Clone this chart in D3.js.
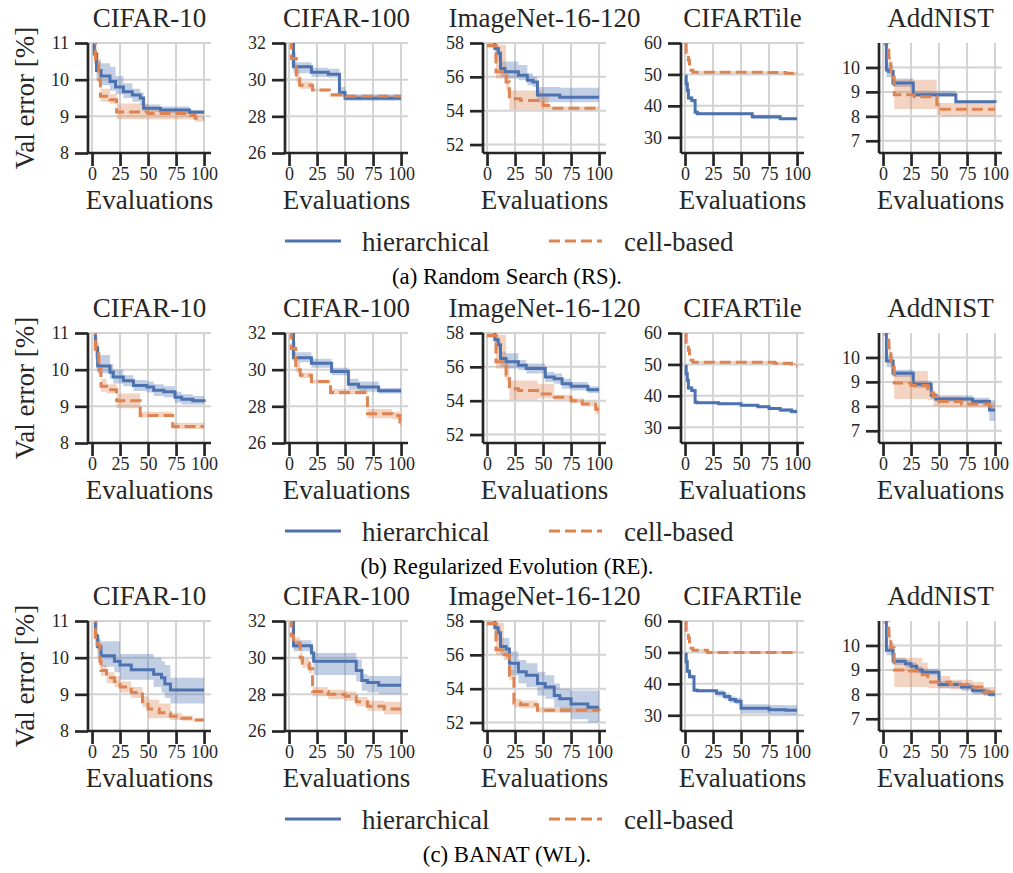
<!DOCTYPE html>
<html>
<head>
<meta charset="utf-8">
<script src="https://cdn.jsdelivr.net/npm/d3@7"></script>
<style>
  body { margin: 0; background: #fff; }
  text { font-family: "Liberation Serif", "Times New Roman", serif; }
</style>
</head>
<body>
<script>
// ---- data ----
const datasets = ["CIFAR-10", "CIFAR-100", "ImageNet-16-120", "CIFARTile", "AddNIST"];
const xTicks = [0, 25, 50, 75, 100];
const yTicks = [[8, 9, 10, 11], [26, 28, 30, 32], [52, 54, 56, 58], [30, 40, 50, 60], [7, 8, 9, 10]];
const yLimits = [[8, 11], [26, 32], [51.5, 58], [25, 60], [6.5, 11]];
const seriesNames = ["hierarchical", "cell-based"];
const captions = ["(a) Random Search (RS).", "(b) Regularized Evolution (RE).", "(c) BANAT (WL)."];

// each point: [evaluation, mean, lower, upper] (step after)
// (a) Random Search
const rsCifar10Hier = [[0,11.6,11.2,12],[2,10.7,10.4,11],[4,10.25,10,10.55],[8,10.1,9.85,10.45],[16,9.95,9.7,10.35],[21,9.8,9.6,10.1],[28,9.67,9.5,9.9],[36,9.58,9.4,9.75],[43,9.5,9.3,9.65],[46,9.22,9.12,9.32],[61,9.17,9.08,9.27],[87,9.11,9.07,9.17],[100,9.11,9.07,9.17]];
const rsCifar10Cell = [[0,11.6,11.2,12],[3,10.5,10.3,10.75],[6,10,9.85,10.3],[7.5,9.55,9.4,9.75],[16,9.45,9.35,9.6],[22,9.12,8.92,9.35],[50,9.08,8.92,9.2],[88,9.02,8.92,9.1],[92,8.95,8.85,9.05],[100,8.95,8.85,9.05]];
const rsCifar100Hier = [[0,33,32.5,33.5],[4,30.7,30.35,30.95],[20,30.4,30.15,30.65],[35,30.3,30.1,30.6],[45,29.3,29.1,29.6],[50,28.98,28.85,29.2],[100,28.98,28.85,29.15]];
const rsCifar100Cell = [[0,33,32.5,33.5],[2,31.15,30.8,31.5],[6.5,30.05,29.85,30.6],[9.5,29.7,29.5,29.9],[21,29.43,29.35,29.5],[36,29.18,29.05,29.25],[51,29.1,29,29.15],[100,29.1,29,29.15]];
const rsImagenetHier = [[0,58.3,58,58.6],[7,57.67,57.3,57.9],[10,57.4,57,57.7],[12,56.5,56,56.9],[16,56.3,55.9,56.9],[28,56.1,55.8,56.7],[36,55.8,55.5,56.2],[41,55.7,55.4,56],[45,54.93,54.5,55.4],[65,54.8,54.5,55.35],[100,54.8,54.5,55.35]];
const rsImagenetCell = [[0,57.85,57.7,58],[8,56.3,55.9,57.9],[17,55.7,55.2,56.4],[20,54.7,54.05,55.2],[30,54.6,54.05,55.2],[50,54.3,54.05,55],[55,54.15,54.05,54.25],[100,54.15,54.05,54.25]];
const rsTileHier = [[0,49.4,48.8,50],[1,47,46.3,47.8],[2,45,44.3,45.7],[3,42.5,41.9,43.2],[6,41.7,41.1,42.3],[9,38,37.4,38.6],[11,37.5,37.1,37.9],[60,36.5,35.8,37.2],[85,35.9,35.5,36.3],[100,35.9,35.5,36.3]];
const rsTileCell = [[0,60,59.5,60.5],[1,57,56.5,57.5],[3,54.5,54,55],[4,51.3,50.8,51.8],[7,50.7,50.3,51.1],[70,50.6,50.2,51],[90,50.4,50,50.8],[100,50.4,50,50.8]];
const rsAddnistHier = [[0,11.2,10.9,11.5],[3,9.9,9.6,10.2],[5,9.83,9.6,10.1],[9,9.36,9.2,9.55],[27,8.88,8.8,9.05],[65,8.6,8.55,8.65],[100,8.55,8.52,8.6]];
const rsAddnistCell = [[0,11.2,10.9,11.5],[5,10.4,10.1,10.7],[7,9.6,9.3,9.9],[10,8.88,8.3,9.5],[28,8.8,8.3,9.5],[48,8.47,8.05,8.55],[52,8.29,8,8.55],[100,8.29,8,8.45]];

// (b) Regularized Evolution
const reCifar10Hier = [[0,11.6,11.2,12],[3,10.6,10.35,10.9],[5,10.1,9.9,10.4],[16,9.93,9.75,10.15],[19,9.8,9.62,10],[28,9.7,9.55,9.85],[37,9.57,9.42,9.72],[49,9.53,9.38,9.68],[55,9.44,9.28,9.6],[64,9.4,9.25,9.55],[74,9.25,9.1,9.4],[80,9.19,9.05,9.33],[90,9.15,9.05,9.28],[100,9.12,9.02,9.25]];
const reCifar10Cell = [[0,11.6,11.2,12],[3,10.5,10.3,10.75],[6,10,9.85,10.3],[8,9.55,9.4,9.75],[13,9.45,9.35,9.6],[22,9.15,8.95,9.35],[43,8.75,8.7,8.85],[72,8.45,8.38,8.55],[100,8.45,8.38,8.55]];
const reCifar100Hier = [[0,33,32.5,33.5],[4,30.65,30.4,30.95],[20,30.35,30.1,30.6],[38,29.9,29.7,30.1],[53,29.2,28.95,29.5],[62,29.05,28.8,29.35],[80,28.85,28.7,29],[100,28.85,28.7,29]];
const reCifar100Cell = [[0,33,32.5,33.5],[2,31.15,30.8,31.5],[6,30,29.85,30.4],[10,29.7,29.55,29.85],[20,29.35,29.25,29.45],[37,28.75,28.65,28.95],[70,27.6,27.35,27.85],[92,27.5,27.3,27.7],[99,27.15,26.9,27.4],[100,27.15,26.9,27.4]];
const reImagenetHier = [[0,58.3,58,58.6],[7,57.6,57.3,57.9],[10,57.3,57,57.6],[12,56.5,56,56.9],[17,56.3,55.9,56.8],[28,56.1,55.8,56.4],[35,55.9,55.6,56.2],[52,55.4,55.1,55.7],[60,55.3,55,55.6],[67,55,54.7,55.3],[75,54.85,54.6,55.1],[90,54.65,54.45,54.85],[100,54.65,54.45,54.85]];
const reImagenetCell = [[0,57.85,57.7,58],[8,56.3,55.9,57.9],[17,55.5,55.2,56.4],[20,54.7,54.05,55.2],[28,54.6,54.05,55.2],[45,54.4,54.15,55],[60,54.2,54.05,54.35],[75,54,53.85,54.15],[85,53.8,53.65,53.95],[97,53.5,53.2,53.7],[100,53.5,53.2,53.7]];
const reTileHier = [[0,49.4,48.8,50],[1,47,46.3,47.8],[2,45,44.3,45.7],[3,42.5,41.9,43.2],[6,41.7,41.1,42.3],[9,38,37.4,38.6],[11,37.8,37.4,38.2],[30,37.5,37.1,37.9],[50,37,36.6,37.4],[65,36.5,36.1,36.9],[75,36,35.6,36.4],[85,35.5,34.9,36],[95,35,34.4,35.6],[100,35,34.4,35.6]];
const reTileCell = [[0,60,59.5,60.5],[1,57,56.5,57.5],[3,54.5,54,55],[4,51.3,50.8,51.8],[7,50.7,50.3,51.1],[80,50.4,50,50.8],[95,50.1,49.7,50.5],[99,49.5,49.1,49.9],[100,49.5,49.1,49.9]];
const reAddnistHier = [[0,11.2,10.9,11.5],[3,9.85,9.6,10.1],[9,9.35,9.2,9.5],[27,8.9,8.75,9.05],[43,8.45,8.3,8.6],[47,8.3,8.2,8.45],[80,8.2,8.1,8.35],[95,7.85,7.4,8.25],[100,7.85,7.4,8.25]];
const reAddnistCell = [[0,11.2,10.9,11.5],[5,10.4,10.1,10.7],[7,9.6,9.3,9.9],[10,8.95,8.3,9.45],[25,8.85,8.3,9.45],[40,8.55,8.25,8.8],[45,8.4,8,8.5],[50,8.2,7.95,8.4],[70,8.1,7.95,8.3],[95,8,7.9,8.15],[100,8,7.9,8.15]];

// (c) BANAT
const wlCifar10Hier = [[0,11.6,11.2,12],[3,10.6,10.3,11],[5,10.3,10,10.5],[8,10.05,9.75,10.45],[20,9.9,9.6,10.45],[25,9.8,9.4,10.1],[35,9.67,9.4,10.1],[55,9.55,9.2,10],[62,9.45,9.05,9.9],[65,9.28,8.9,9.8],[70,9.12,8.75,9.45],[100,9.12,8.75,9.45]];
const wlCifar10Cell = [[0,11.6,11.2,12],[3,10.5,10.3,10.7],[5,10.35,10.1,10.55],[7,9.9,9.7,10.1],[8,9.65,9.5,9.8],[13,9.45,9.3,9.6],[20,9.35,9.2,9.5],[25,9.2,9.05,9.35],[35,9.05,8.9,9.2],[45,8.8,8.65,8.95],[50,8.6,8.35,8.85],[60,8.5,8.35,8.75],[70,8.4,8.3,8.5],[80,8.35,8.28,8.42],[90,8.3,8.25,8.35],[100,8.3,8.25,8.35]];
const wlCifar100Hier = [[0,33,32.5,33.5],[4,30.65,30.35,30.95],[20,30.25,29.9,30.6],[22,29.8,29.05,30.25],[60,29.3,28.7,29.9],[65,28.75,28.2,29.1],[70,28.65,28.1,29],[80,28.5,28,29],[100,28.5,28,29]];
const wlCifar100Cell = [[0,33,32.5,33.5],[2,31.2,30.9,31.5],[4,30.8,30.5,31.1],[10,30,29.7,30.3],[12,29.7,29.45,29.95],[18,29.4,29.15,29.65],[21,28.15,27.9,28.4],[35,28,27.75,28.25],[50,27.9,27.65,28.15],[60,27.6,27.35,27.85],[70,27.35,27.1,27.65],[85,27.2,26.9,27.6],[100,27.2,26.9,27.6]];
const wlImagenetHier = [[0,58.3,58,58.6],[7,57.6,57.3,57.9],[10,57.3,56.9,57.6],[12,56.5,56,57],[17,56.35,55.8,57],[20,55.5,54.8,56.2],[28,55,54.3,55.7],[35,54.8,54.1,55.5],[45,54.3,53.6,55],[52,54.1,53.4,54.8],[60,53.6,52.9,54.3],[65,53.4,52.6,54],[75,53.1,52.2,53.9],[90,52.9,52,53.9],[100,52.9,52,53.9]];
const wlImagenetCell = [[0,57.85,57.7,58],[8,56.3,56,57.9],[15,56,55.7,56.3],[20,54.8,54.5,55.1],[24,53.15,52.9,53.4],[30,53.05,52.85,53.3],[45,52.72,52.6,52.9],[100,52.7,52.6,52.85]];
const wlTileHier = [[0,49.4,48.8,50],[1,47,46.3,47.8],[2,44,43.4,44.6],[4,42.3,41.7,42.9],[8,38,37.4,38.6],[11,37.8,37.3,38.3],[28,37,36,38],[35,36,35,37],[40,35,34,36],[45,34.5,33.5,35.5],[50,32.2,30.5,33.5],[75,31.8,30.2,33.3],[90,31.6,30.1,33.2],[100,31.6,30.1,33.2]];
const wlTileCell = [[0,60,59.5,60.5],[1,57,56.5,57.5],[3,54.5,54,55],[4,51.3,50.8,51.8],[7,50.7,50.3,51.1],[20,50,49.7,50.3],[100,50,49.7,50.3]];
const wlAddnistHier = [[0,11.2,10.9,11.5],[3,9.8,9.6,10],[9,9.35,9.2,9.5],[20,9.25,9.1,9.4],[25,9.15,9,9.3],[30,9,8.85,9.15],[35,8.9,8.75,9.05],[50,8.4,8.25,8.55],[70,8.3,8.15,8.45],[80,8.15,8,8.3],[90,8.1,7.95,8.25],[95,8,7.9,8.1],[100,8,7.9,8.1]];
const wlAddnistCell = [[0,11.2,10.9,11.5],[5,10.4,10.1,10.7],[7,9.9,9.6,10.1],[10,9,8.3,9.5],[20,8.95,8.3,9.5],[35,8.8,8.3,9.3],[40,8.5,8.25,8.75],[60,8.4,8.2,8.6],[80,8.3,8.1,8.5],[90,8.1,7.95,8.3],[100,8.1,7.95,8.3]];

const rows = [
  [[rsCifar10Hier, rsCifar10Cell], [rsCifar100Hier, rsCifar100Cell], [rsImagenetHier, rsImagenetCell], [rsTileHier, rsTileCell], [rsAddnistHier, rsAddnistCell]],
  [[reCifar10Hier, reCifar10Cell], [reCifar100Hier, reCifar100Cell], [reImagenetHier, reImagenetCell], [reTileHier, reTileCell], [reAddnistHier, reAddnistCell]],
  [[wlCifar10Hier, wlCifar10Cell], [wlCifar100Hier, wlCifar100Cell], [wlImagenetHier, wlImagenetCell], [wlTileHier, wlTileCell], [wlAddnistHier, wlAddnistCell]]
];

// ---- layout ----
const W = 1013, H = 873;
const panelLeft = [88, 285, 483, 681, 879];
const rowTop = [43, 333, 621];
const pw = 123, ph = 110;
const colors = ["#4c72b0", "#dd8452"];
const ink = "#262626";
const gridColor = "#d3d3d3";
const bigFont = 27, tickFont = 18;
const serif = "Liberation Serif, Times New Roman, serif";

const svg = d3.select("body").append("svg")
    .attr("width", W)
    .attr("height", H);

rows.forEach((row, r) => {
  const top = rowTop[r];
  row.forEach((pair, c) => {
    const left = panelLeft[c];
    const x = d3.scaleLinear().domain([-3.6, 106.2]).range([0, pw]);
    const y = d3.scaleLinear().domain(yLimits[c]).range([ph, 0]);
    const g = svg.append("g").attr("transform", `translate(${left},${top})`);
    const clipId = `clip-${r}-${c}`;
    g.append("clipPath").attr("id", clipId)
      .append("rect").attr("x", 0).attr("y", 0).attr("width", pw).attr("height", ph);

    // grid
    g.append("g").selectAll("line").data(xTicks).join("line")
      .attr("x1", d => x(d)).attr("x2", d => x(d))
      .attr("y1", 0).attr("y2", ph)
      .attr("stroke", gridColor).attr("stroke-width", 2);
    g.append("g").selectAll("line").data(yTicks[c]).join("line")
      .attr("x1", 0).attr("x2", pw)
      .attr("y1", d => y(d)).attr("y2", d => y(d))
      .attr("stroke", gridColor).attr("stroke-width", 2);

    const plot = g.append("g").attr("clip-path", `url(#${clipId})`);
    pair.forEach((data, i) => {
      plot.append("path").datum(data)
        .attr("fill", colors[i]).attr("fill-opacity", 0.35)
        .attr("d", d3.area().curve(d3.curveStepAfter)
          .x(d => x(d[0])).y0(d => y(d[2])).y1(d => y(d[3])));
    });
    pair.forEach((data, i) => {
      plot.append("path").datum(data)
        .attr("fill", "none").attr("stroke", colors[i]).attr("stroke-width", 3)
        .attr("stroke-dasharray", i === 1 ? "11,5" : null)
        .attr("d", d3.line().curve(d3.curveStepAfter)
          .x(d => x(d[0])).y(d => y(d[1])));
    });

    // axes
    const xAxis = g.append("g").attr("transform", `translate(0,${ph})`)
      .call(d3.axisBottom(x).tickValues(xTicks).tickFormat(d3.format("d"))
        .tickSize(13).tickPadding(1.5).tickSizeOuter(0));
    const yAxis = g.append("g")
      .call(d3.axisLeft(y).tickValues(yTicks[c]).tickFormat(d3.format("d"))
        .tickSize(13).tickPadding(6).tickSizeOuter(0));
    [xAxis, yAxis].forEach(a => {
      a.attr("font-family", serif);
      a.select(".domain").attr("stroke", ink).attr("stroke-width", 2.7);
      a.selectAll(".tick line").attr("stroke", ink).attr("stroke-width", 2.7);
      a.selectAll(".tick text").attr("fill", ink)
        .style("font-family", serif).attr("font-size", tickFont);
    });
    xAxis.select(".domain").attr("d", `M0,0H${pw}`);
    yAxis.select(".domain").attr("d", `M0,0V${ph}`);

    g.append("text")
      .attr("x", pw / 2).attr("y", -16)
      .attr("text-anchor", "middle").attr("font-size", bigFont).attr("fill", ink)
      .text(datasets[c]);
    g.append("text")
      .attr("x", pw / 2).attr("y", ph + 55.5)
      .attr("text-anchor", "middle").attr("font-size", bigFont).attr("fill", ink)
      .text("Evaluations");
    if (c === 0) {
      g.append("text")
        .attr("transform", `translate(${34 - left},${ph / 2}) rotate(-90)`)
        .attr("text-anchor", "middle").attr("font-size", bigFont).attr("fill", ink)
        .text("Val error [%]");
    }
  });

  // legend
  const ly = top + ph + 88;
  const legendX = [[285, 341, 362], [549, 602, 624]];
  seriesNames.forEach((name, i) => {
    svg.append("line")
      .attr("x1", legendX[i][0]).attr("x2", legendX[i][1])
      .attr("y1", ly).attr("y2", ly)
      .attr("stroke", colors[i]).attr("stroke-width", 3)
      .attr("stroke-dasharray", i === 1 ? "11,5" : null);
    svg.append("text")
      .attr("x", legendX[i][2]).attr("y", ly + 10)
      .attr("font-size", bigFont).attr("fill", ink)
      .text(name);
  });

  svg.append("text")
    .attr("x", 507).attr("y", top + ph + 131)
    .attr("text-anchor", "middle").attr("font-size", 22.75).attr("fill", "#000")
    .text(captions[r]);
});
</script>
</body>
</html>
